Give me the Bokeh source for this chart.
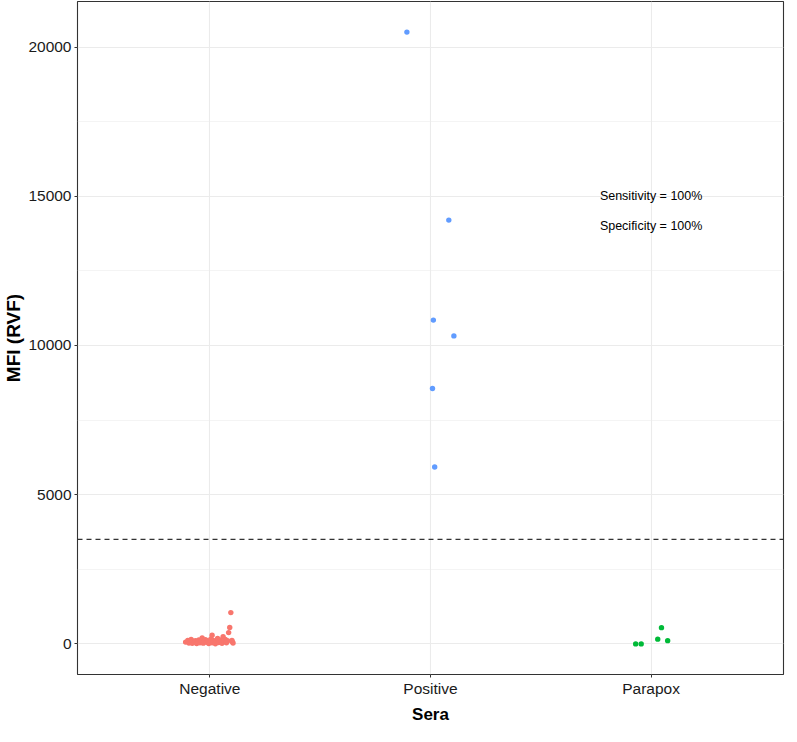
from bokeh.plotting import figure
from bokeh.models import ColumnDataSource, Range1d, FixedTicker, Span, Label
from bokeh.embed import file_html
from bokeh.resources import INLINE

# ---- data ----
categories = ["Negative", "Positive", "Parapox"]

neg_offset = [-0.11, -0.10, -0.095, -0.09, -0.085, -0.08, -0.075, -0.07, -0.065, -0.06,
              -0.055, -0.05, -0.045, -0.04, -0.035, -0.03, -0.025, -0.02, -0.015, -0.01,
              -0.005, 0.0, 0.005, 0.01, 0.01, 0.015, 0.02, 0.025, 0.03, 0.035,
              0.04, 0.045, 0.05, 0.055, 0.06, 0.065, 0.07, 0.075, 0.08, 0.085,
              0.075, 0.09, 0.095, 0.10, 0.105, 0.10]
neg_mfi = [60, 120, 30, 80, 150, 20, 90, 50, 110, 10,
           70, 130, 40, 95, 200, 25, 85, 140, 55, 105,
           15, 75, 170, 35, 290, 120, 60, 5, 100, 180,
           45, 130, 70, 20, 240, 90, 150, 40, 110, 380,
           60, 550, 1050, 80, 30, 120]

pos_offset = [-0.107, 0.083, 0.013, 0.106, 0.009, 0.019]
pos_mfi = [20500, 14200, 10850, 10320, 8560, 5930]

para_offset = [-0.07, -0.045, 0.03, 0.047, 0.075]
para_mfi = [0, 0, 160, 545, 110]

cutoff = 3500
sens_text = "Sensitivity = 100%"
spec_text = "Specificity = 100%"
y_ticks = [0, 5000, 10000, 15000, 20000]
y_minor = [2500, 7500, 12500, 17500]

colors = ["#F8766D", "#619CFF", "#00BA38"]

FONT = "Liberation Sans"

p = figure(width=785, height=726, output_backend="svg", toolbar_location=None,
           x_range=Range1d(0.4, 3.6), y_range=Range1d(-1025, 21525),
           min_border_left=40, min_border_right=2, min_border_top=1, min_border_bottom=0)

groups = [(neg_offset, neg_mfi), (pos_offset, pos_mfi), (para_offset, para_mfi)]
for i, ((offs, vals), col) in enumerate(zip(groups, colors)):
    src = ColumnDataSource(dict(x=[i + 1 + o for o in offs], y=vals))
    p.scatter("x", "y", source=src, size=5.4, fill_color=col, line_color=col, line_width=0)

p.add_layout(Span(location=cutoff, dimension="width", line_color="#333333",
                  line_width=1.3, line_dash="5 4"))

p.add_layout(Label(x=3, y=15000, text=sens_text, text_align="center", text_baseline="middle",
                   text_font=FONT, text_font_size="12.5px", text_color="black"))
p.add_layout(Label(x=3, y=14000, text=spec_text, text_align="center", text_baseline="middle",
                   text_font=FONT, text_font_size="12.5px", text_color="black"))

# axes
p.xaxis.ticker = FixedTicker(ticks=[1, 2, 3])
p.xaxis.major_label_overrides = {1: categories[0], 2: categories[1], 3: categories[2]}
p.yaxis.ticker = FixedTicker(ticks=y_ticks, minor_ticks=y_minor)
p.xgrid.ticker = FixedTicker(ticks=[1, 2, 3])
p.ygrid.ticker = FixedTicker(ticks=y_ticks, minor_ticks=y_minor)

p.xaxis.axis_label = "Sera"
p.yaxis.axis_label = "MFI (RVF)"
for ax in (p.xaxis, p.yaxis):
    ax.axis_label_text_font = FONT
    ax.axis_label_text_font_style = "bold"
    ax.axis_label_text_font_size = "17px"
    ax.axis_label_text_color = "black"
    ax.major_label_text_font = FONT
    ax.major_label_text_font_size = "15.5px"
    ax.major_label_text_color = "#1a1a1a"
    ax.axis_line_color = None
    ax.major_tick_line_color = "#333333"
    ax.major_tick_in = 0
    ax.major_tick_out = 3
    ax.minor_tick_line_color = None
    ax.major_label_standoff = 2
p.yaxis.axis_label_text_font_size = "19px"
p.xaxis.axis_label_standoff = 5
p.yaxis.axis_label_standoff = 1
p.yaxis.major_label_orientation = "horizontal"

p.xgrid.grid_line_color = "#EBEBEB"
p.xgrid.grid_line_width = 1.1
p.ygrid.grid_line_color = "#EBEBEB"
p.ygrid.grid_line_width = 1.1
p.ygrid.minor_grid_line_color = "#EBEBEB"
p.ygrid.minor_grid_line_width = 0.55

p.outline_line_color = "#333333"
p.outline_line_width = 1.1
p.background_fill_color = "white"
p.border_fill_color = "white"

open("out.html", "w").write(file_html(p, INLINE))
